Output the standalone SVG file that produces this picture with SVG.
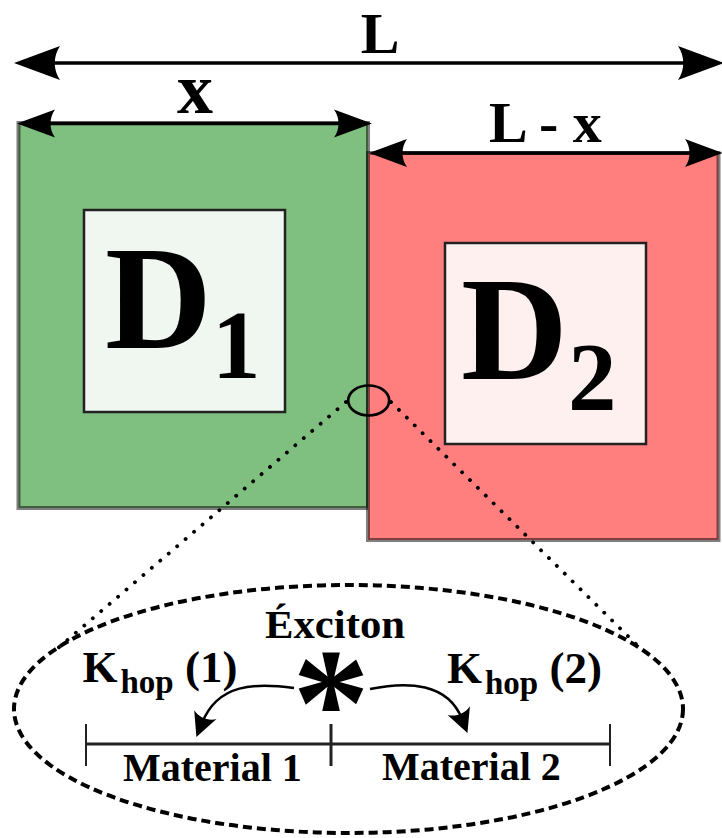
<svg xmlns="http://www.w3.org/2000/svg" width="722" height="838" viewBox="0 0 722 838">
<style>
.t{font-family:"Liberation Serif","Times New Roman",serif;font-weight:bold;fill:#000}
.outer{stroke:#000;stroke-opacity:0.5;stroke-width:4}
.inner{stroke:#222;stroke-width:2.5}
.dim{stroke:#000;fill:none}
.dot{stroke:#000;stroke-width:3.8;stroke-dasharray:0.1 11;stroke-linecap:round;fill:none}
.curve{stroke:#000;stroke-width:2.5;fill:none;marker-end:url(#mSmall)}
.scale{stroke:#222;fill:none}
</style>
<defs>
<marker id="mBig" markerUnits="userSpaceOnUse" orient="auto-start-reverse" refX="-35" refY="0" markerWidth="60" markerHeight="40" viewBox="-50 -20 60 40" overflow="visible">
<path d="M0,0 L-46,-17 C-39,-7 -39,7 -46,17 Z" fill="#000"/>
</marker>
<marker id="mMid" markerUnits="userSpaceOnUse" orient="auto-start-reverse" refX="-28" refY="0" markerWidth="50" markerHeight="34" viewBox="-42 -17 50 34" overflow="visible">
<path d="M0,0 L-38,-14 C-32,-6 -32,6 -38,14 Z" fill="#000"/>
</marker>
<marker id="mSmall" markerUnits="userSpaceOnUse" orient="auto" refX="-15" refY="0" markerWidth="30" markerHeight="30" viewBox="-28 -15 30 30" overflow="visible">
<path d="M0,0 L-24,-12 C-19,-5 -19,5 -24,12 Z" fill="#000"/>
</marker>
</defs>

<g id="region-d1">
<rect class="outer" x="18.5" y="123" width="349.5" height="385" fill="#7fbf7f"/>
<rect class="inner" x="84" y="210" width="201" height="202" fill="#f0f7f0"/>
<text class="t" x="105" y="348" font-size="148">D<tspan font-size="97" y="378" dx="0">1</tspan></text>
</g>

<g id="region-d2">
<rect class="outer" x="368" y="153" width="350.5" height="387" fill="#ff7f7f"/>
<rect class="inner" x="445" y="243" width="201" height="201" fill="#fff0f0"/>
<text class="t" x="461" y="379" font-size="148">D<tspan font-size="97" y="410" dx="0">2</tspan></text>
</g>

<g id="junction">
<ellipse cx="368.7" cy="400.5" rx="20.5" ry="15" fill="none" stroke="#000" stroke-width="2.7"/>
</g>

<g id="labels">
<text class="t" x="380" y="53" font-size="58" text-anchor="middle">L</text>
<text class="t" x="195" y="113" font-size="72" text-anchor="middle">x</text>
<text class="t" x="489" y="142" font-size="58">L - x</text>
</g>

<g id="zoom-view">
<ellipse cx="348.5" cy="709" rx="334.5" ry="124" fill="none" stroke="#000" stroke-width="4" stroke-dasharray="9 5"/>
<text class="t" x="265" y="638" font-size="40" textLength="140" lengthAdjust="spacingAndGlyphs">Éxciton</text>
<text class="t" x="331" y="755" font-size="155" text-anchor="middle">*</text>
<text class="t" x="82.5" y="682" font-size="45">K<tspan font-size="33" y="693" dx="3">hop</tspan><tspan y="682"> (1)</tspan></text>
<text class="t" x="447" y="683" font-size="45">K<tspan font-size="33" y="694" dx="3">hop</tspan><tspan y="683"> (2)</tspan></text>
<text class="t" x="123" y="781" font-size="40">Material 1</text>
<text class="t" x="382" y="780" font-size="40">Material 2</text>
</g>

<g id="connectors">
<line class="dim" x1="49" y1="63" x2="689" y2="63" stroke-width="3.5" marker-start="url(#mBig)" marker-end="url(#mBig)"/>
<line class="dim" x1="45" y1="123.5" x2="344" y2="123.5" stroke-width="3.5" marker-start="url(#mMid)" marker-end="url(#mMid)"/>
<line class="dim" x1="397" y1="153" x2="695" y2="153" stroke-width="3.5" marker-start="url(#mMid)" marker-end="url(#mMid)"/>
<line class="dot" x1="346" y1="402" x2="58" y2="648"/>
<line class="dot" x1="391" y1="402" x2="642" y2="650"/>
<path class="curve" d="M294,688 C255,683 218,683 202,723"/>
<path class="curve" d="M370,689 C408,681 448,683 462,719"/>
<line class="scale" x1="86" y1="744" x2="610" y2="744" stroke-width="3"/>
<line class="scale" x1="86" y1="724" x2="86" y2="766" stroke-width="2"/>
<line class="scale" x1="331" y1="724" x2="331" y2="766" stroke-width="3"/>
<line class="scale" x1="610" y1="724" x2="610" y2="766" stroke-width="2"/>
</g>
</svg>
